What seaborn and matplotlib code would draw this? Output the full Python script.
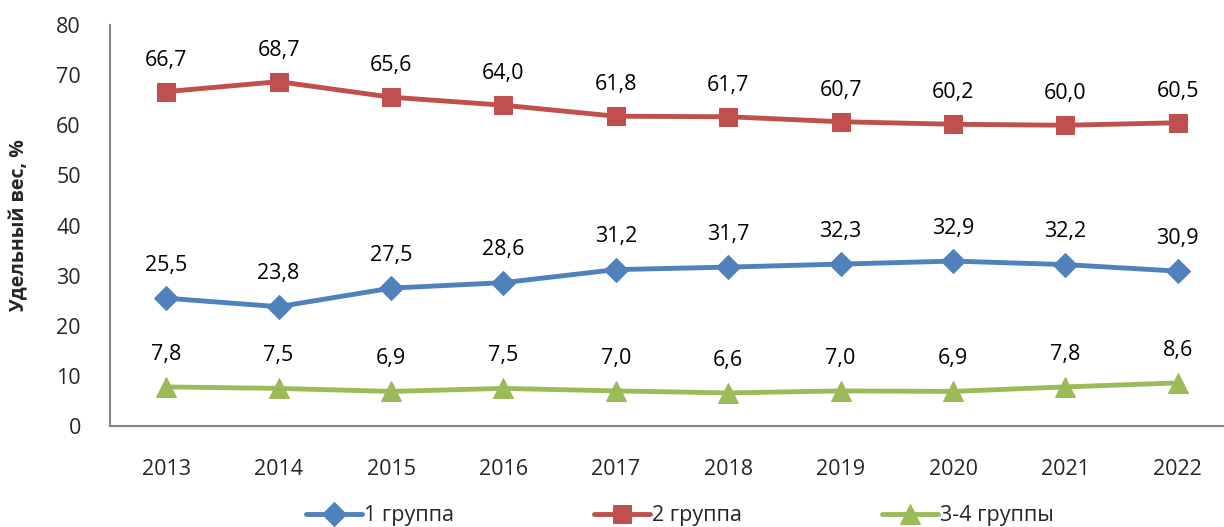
import matplotlib
matplotlib.use("Agg")
import matplotlib.pyplot as plt
import seaborn as sns
import pandas as pd
import numpy as np

years = ["2013", "2014", "2015", "2016", "2017", "2018", "2019", "2020", "2021", "2022"]
group1 = [25.5, 23.8, 27.5, 28.6, 31.2, 31.7, 32.3, 32.9, 32.2, 30.9]
group2 = [66.7, 68.7, 65.6, 64.0, 61.8, 61.7, 60.7, 60.2, 60.0, 60.5]
group34 = [7.8, 7.5, 6.9, 7.5, 7.0, 6.6, 7.0, 6.9, 7.8, 8.6]
series_names = ["1 группа", "2 группа", "3-4 группы"]
y_label = "Удельный вес, %"

sns.set_theme(style="white")
plt.rcParams['font.family'] = ['Open Sans', 'DejaVu Sans']

colors = ["#4F81BD", "#C0504D", "#9BBB59"]
markers = ["D", "s", "^"]
msizes = [12, 13.5, 14]
offsets = [16, 15, 16]
FS = 15.5

fig = plt.figure(figsize=(12.24, 5.27), dpi=100)
ax = fig.add_axes([110/1224, 1-426/527, (1234-110)/1224, (426-25)/527])

x = np.arange(len(years))
data = [group1, group2, group34]
for vals, name, c, m, ms, off in zip(data, series_names, colors, markers, msizes, offsets):
    df = pd.DataFrame({"x": x, "y": vals})
    sns.lineplot(data=df, x="x", y="y", ax=ax, color=c, linewidth=3.5, marker=m,
                 markersize=ms, markeredgecolor=c, label=name)
    for xi, v in zip(x, vals):
        ax.annotate(f"{v:.1f}".replace(".", ","), (xi, v), xytext=(0, off),
                    textcoords="offset points", ha="center", va="bottom",
                    fontsize=FS, color="black")

ax.set_xlim(-0.5, len(years) - 0.5)
ax.set_ylim(0, 80)
ax.set_yticks(range(0, 81, 10))
ax.set_xticks(x)
ax.set_xticklabels(years, fontsize=FS)
ax.set_xticks(np.arange(-0.5, len(years), 1.0), minor=True)
ax.tick_params(axis="x", which="major", length=0, pad=24)
ax.tick_params(axis="x", which="minor", length=7, width=1.2, color="#868686", direction="out")
ax.tick_params(axis="y", length=7, width=1.2, color="#868686", direction="out", labelsize=FS, pad=14)
for s in ["top", "right"]:
    ax.spines[s].set_visible(False)
for s in ["left", "bottom"]:
    ax.spines[s].set_color("#868686")
    ax.spines[s].set_linewidth(1.5)
ax.set_xlabel("")
ax.set_ylabel(y_label, fontsize=14, fontweight="bold")
ax.yaxis.set_label_coords(-0.072, 0.5)

leg = ax.legend(loc="center", bbox_to_anchor=(680/1224, 1-516/527), bbox_transform=fig.transFigure,
                ncol=3, frameon=False, fontsize=FS, columnspacing=6.5, handlelength=2.6,
                handletextpad=0.1)
fig.savefig("out.png", dpi=100)
